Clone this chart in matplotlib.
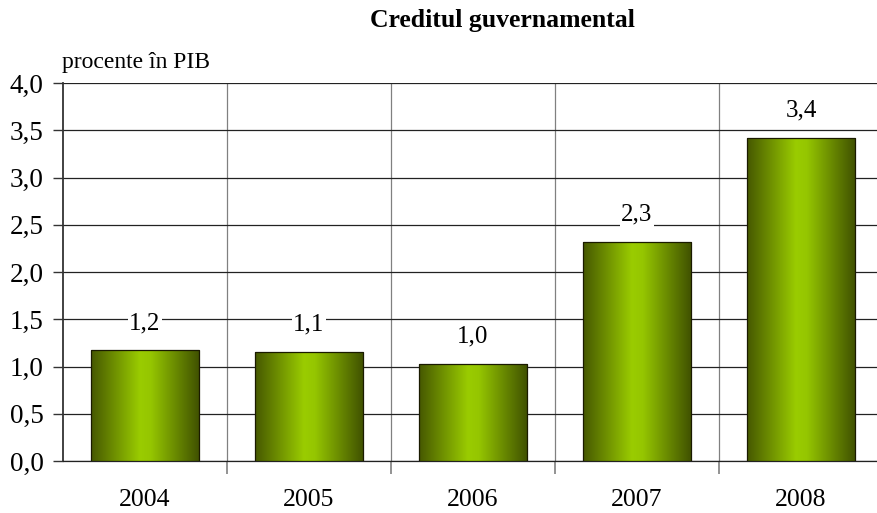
import numpy as np
import matplotlib
matplotlib.use("Agg")
from matplotlib import pyplot as plt
from matplotlib.colors import LinearSegmentedColormap

years = ['2004', '2005', '2006', '2007', '2008']
values = [1.17, 1.15, 1.03, 2.32, 3.42]
labels = ['1,2', '1,1', '1,0', '2,3', '3,4']
yticks = [0.0, 0.5, 1.0, 1.5, 2.0, 2.5, 3.0, 3.5, 4.0]

plt.rcParams['font.family'] = ['Liberation Serif', 'DejaVu Serif']

fig = plt.figure(figsize=(8.77, 5.13), dpi=100)
ax = fig.add_axes([63 / 877, 52 / 513, 820 / 877, 378 / 513])

cmap = LinearSegmentedColormap.from_list(
    'bar', [(0.0, '#465800'), (0.45, '#9acc00'), (0.55, '#95c600'), (1.0, '#3f5000')])
grad = np.linspace(0, 1, 256).reshape(1, -1)

x = np.arange(len(years))
width = 0.66
bars = ax.bar(x, values, width=width, color='none', edgecolor='#1a1a00',
              linewidth=0.9, zorder=3)
for b in bars:
    x0, y0 = b.get_x(), b.get_y()
    im = ax.imshow(grad, cmap=cmap, aspect='auto', zorder=2.9,
                   extent=[x0, x0 + b.get_width(), y0, y0 + b.get_height()])
    im.set_clip_path(b)

for xi, v, lab in zip(x, values, labels):
    ax.text(xi, v + 0.29, lab, ha='center', va='center', fontsize=18,
            bbox=dict(facecolor='white', edgecolor='none', pad=1), zorder=4)

ax.set_xlim(-0.5, len(years) - 0.5)
ax.set_ylim(0, 4)
ax.set_yticks(yticks)
ax.set_yticklabels([f'{t:.1f}'.replace('.', ',') for t in yticks], fontsize=19.5)
ax.set_xticks(x)
ax.set_xticklabels(years, fontsize=18.5)
ax.tick_params(axis='x', length=0, pad=20)
ax.set_xticks(np.arange(-0.5, len(years) - 0.5, 1.0)[1:], minor=True)
ax.tick_params(axis='x', which='minor', length=9, color='#808080', width=1.2)
ax.tick_params(axis='y', length=7, color='#333333', width=1, pad=7)

ax.grid(axis='y', color='#222222', linewidth=0.9, zorder=0)
ax.grid(axis='x', which='minor', color='#808080', linewidth=0.9, zorder=0)
ax.set_axisbelow(True)
for s in ['top', 'right']:
    ax.spines[s].set_visible(False)
ax.spines['left'].set_color('#333333')
ax.spines['left'].set_linewidth(1.3)
ax.spines['bottom'].set_color('#222222')
ax.spines['bottom'].set_linewidth(0.9)

fig.text(502 / 877, 1 - 20 / 513, 'Creditul guvernamental', ha='center',
         va='center', fontsize=18.5, fontweight='bold')
fig.text(62 / 877, 1 - 63 / 513, 'procente în PIB', ha='left', va='center',
         fontsize=17)

fig.savefig('out.png', dpi=100)
